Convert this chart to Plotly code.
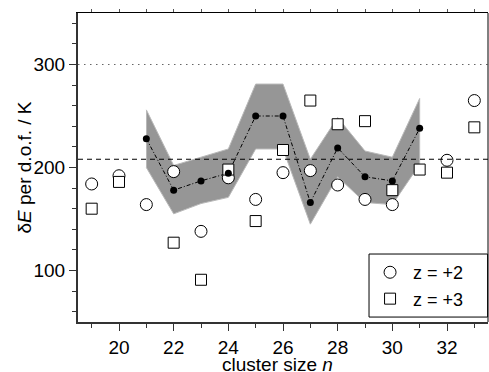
import plotly.graph_objects as go

# ---- data ----
n_z2 = [19, 20, 21, 22, 23, 24, 25, 26, 27, 28, 29, 30, 32, 33]
dE_z2 = [184, 192, 164, 196, 138, 190, 169, 195, 197, 183, 169, 164, 207, 265]

n_z3 = [19, 20, 22, 23, 24, 25, 26, 27, 28, 29, 30, 31, 32, 33]
dE_z3 = [160, 186, 127, 91, 198, 148, 217, 265, 242, 245, 178, 198, 195, 239]

n_mean = [21, 22, 23, 24, 25, 26, 27, 28, 29, 30, 31]
dE_mean = [228, 178, 187, 194.5, 250, 250, 166, 219, 191, 187, 238]
band_hi = [256, 202, 210, 218, 281, 281, 208, 248.5, 216, 210, 267]
band_lo = [200, 155, 165, 171, 218, 218, 145, 191, 166, 164, 203]

ref_dotted = 300
ref_dashed = 208

x_range = [18.5, 33.5]
y_range = [50, 350]

x_title = "cluster size <i>n</i>"
y_title = "δ<i>E</i> per d.o.f. / K"

FONT = "Liberation Sans, Arial, sans-serif"
FS = 19
AX = "#333333"

fig = go.Figure()

# gray band
fig.add_trace(go.Scatter(
    x=n_mean + n_mean[::-1], y=band_hi + band_lo[::-1],
    fill="toself", fillcolor="rgb(150,150,150)", mode="lines",
    line=dict(color="rgb(185,185,185)", width=1),
    showlegend=False, hoverinfo="skip"))

# reference lines
fig.add_trace(go.Scatter(
    x=x_range, y=[ref_dotted, ref_dotted], mode="lines",
    line=dict(color="#666666", width=1.2, dash="1.5px,4.5px"),
    showlegend=False, hoverinfo="skip"))
fig.add_trace(go.Scatter(
    x=x_range, y=[ref_dashed, ref_dashed], mode="lines",
    line=dict(color="black", width=1.2, dash="5px,4px"),
    showlegend=False, hoverinfo="skip", xaxis="x2"))

# mean line
fig.add_trace(go.Scatter(
    x=n_mean, y=dE_mean, mode="lines",
    line=dict(color="black", width=1, dash="4px,2px,1px,2px"),
    showlegend=False, hoverinfo="skip"))

# open symbols
fig.add_trace(go.Scatter(
    x=n_z2, y=dE_z2, mode="markers", name="z = +2",
    marker=dict(symbol="circle", size=12, color="white",
                line=dict(color="black", width=1))))
fig.add_trace(go.Scatter(
    x=n_z3, y=dE_z3, mode="markers", name="z = +3",
    marker=dict(symbol="square", size=11, color="white",
                line=dict(color="black", width=1))))

# filled mean dots
fig.add_trace(go.Scatter(
    x=n_mean, y=dE_mean, mode="markers",
    marker=dict(symbol="circle", size=7, color="black"),
    showlegend=False))

fig.update_layout(
    width=489, height=372,
    margin=dict(l=78, r=1, t=13, b=50),
    paper_bgcolor="white", plot_bgcolor="white",
    font=dict(family=FONT, size=FS, color="black"),
    xaxis=dict(
        range=x_range, showgrid=False, zeroline=False, automargin=False,
        showline=True, linewidth=2, linecolor=AX,
        ticks="outside", ticklen=7, tickwidth=1, tickcolor=AX,
        dtick=2, tick0=0,
        minor=dict(dtick=1, tick0=0, ticks="outside", ticklen=4,
                   tickcolor=AX, tickwidth=1, showgrid=False),
        tickfont=dict(size=FS),
    ),
    xaxis2=dict(
        range=x_range, overlaying="x", side="top", anchor="y", automargin=False,
        showgrid=False, zeroline=False, showticklabels=False,
        showline=True, linewidth=1, linecolor="black",
        ticks="outside", ticklen=3, tickwidth=1, tickcolor="#555",
        dtick=1, tick0=0,
    ),
    yaxis=dict(
        range=y_range, showgrid=False, zeroline=False, automargin=False,
        showline=True, linewidth=2, linecolor=AX,
        ticks="outside", ticklen=7, tickwidth=1, tickcolor=AX,
        dtick=100, tick0=0,
        minor=dict(dtick=20, tick0=0, ticks="outside", ticklen=4,
                   tickcolor=AX, tickwidth=1, showgrid=False),
        tickfont=dict(size=FS),
    ),
    legend=dict(
        x=0.705, y=0.016, xanchor="left", yanchor="bottom",
        bgcolor="rgba(0,0,0,0)", borderwidth=0,
        font=dict(size=18), tracegroupgap=0, itemwidth=36,
    ),
    annotations=[
        dict(text=x_title, xref="paper", yref="paper", x=0.4866, y=-0.136,
             xanchor="center", yanchor="middle", showarrow=False,
             font=dict(size=FS)),
        dict(text=y_title, xref="paper", yref="paper", x=-0.1317, y=0.5,
             xanchor="center", yanchor="middle", showarrow=False,
             textangle=-90, font=dict(size=FS)),
    ],
    shapes=[
        dict(type="line", xref="paper", yref="paper",
             x0=1, x1=1, y0=0, y1=1, line=dict(color="black", width=1)),
        dict(type="rect", xref="paper", yref="paper", layer="above",
             x0=0.7098, x1=0.999, y0=0.016, y1=0.220,
             fillcolor="white", line=dict(color="black", width=1)),
    ],
)

fig.write_html("out.html")
